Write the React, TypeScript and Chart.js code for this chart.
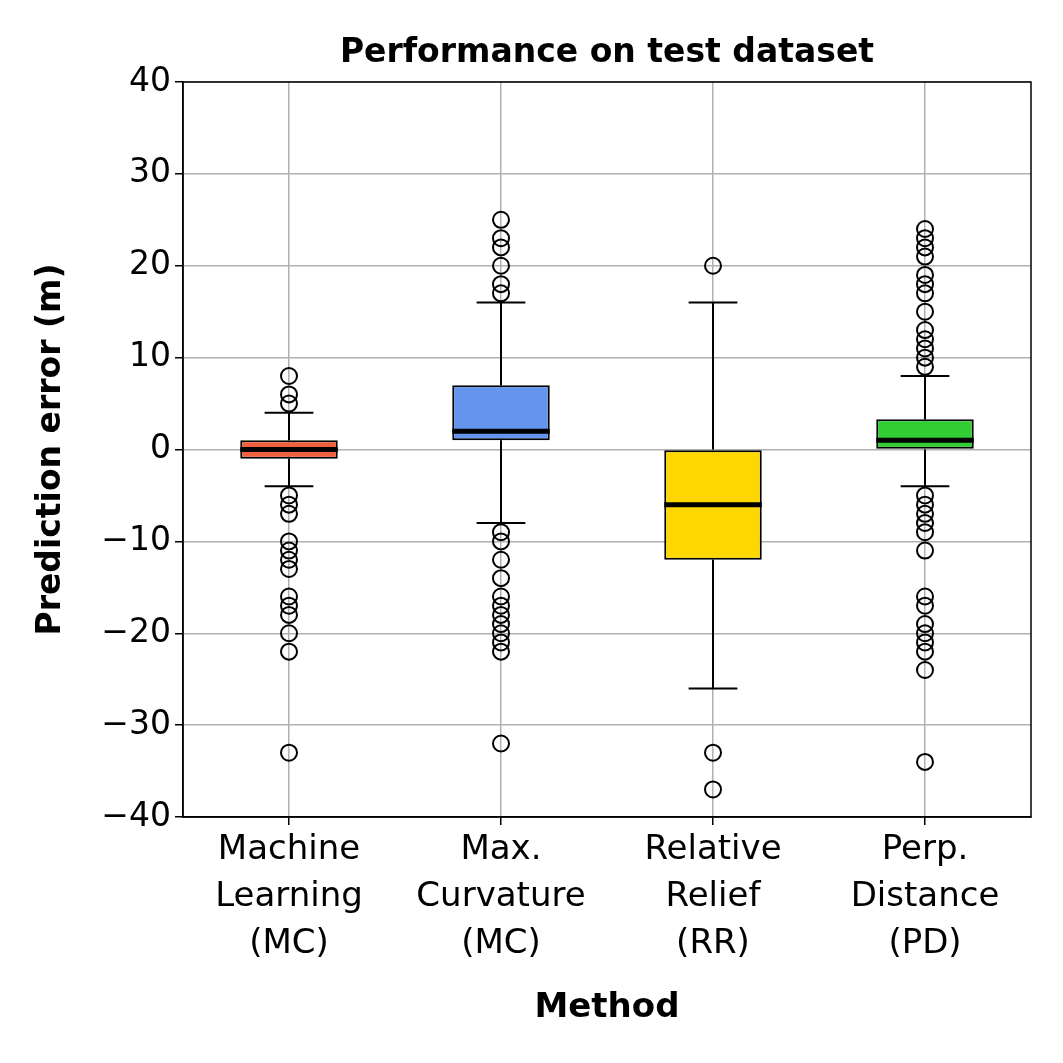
import { useEffect, useRef } from "react";
import { Chart, registerables } from "chart.js";

Chart.register(...registerables);

const methods = [
  ["Machine", "Learning", "(MC)"],
  ["Max.", "Curvature", "(MC)"],
  ["Relative", "Relief", "(RR)"],
  ["Perp.", "Distance", "(PD)"],
];
const keys = ["ML", "MAXC", "RR", "PD"];
const boxColors = ["#f0603f", "#6495ed", "#ffd700", "#32cd32"];
const q1 = [-1, 1, -12, 0];
const q3 = [1, 7, 0, 3.3];
const medians = [0, 2, -6, 1];
const whiskerLow = [-4, -8, -26, -4];
const whiskerHigh = [4, 16, 16, 8];
const outliersML = [8, 6, 5, -5, -6, -7, -10, -11, -12, -13, -16, -17, -18, -20, -22, -33];
const outliersMaxC = [25, 23, 22, 20, 18, 17, -9, -10, -12, -14, -16, -17, -18, -19, -20, -21, -22, -32];
const outliersRR = [20, -33, -37];
const outliersPD = [24, 23, 22, 21, 19, 18, 17, 15, 13, 12, 11, 10, 9, -5, -6, -7, -8, -9, -11, -16, -17, -19, -20, -21, -22, -24, -34];
const yTicks = [-40, -30, -20, -10, 0, 10, 20, 30, 40];

const FONT = "'DejaVu Sans', sans-serif";

const boxPlugin = {
  id: "boxExtras",
  afterDatasetsDraw(chart: any) {
    const { ctx, scales } = chart;
    const meta = chart.getDatasetMeta(0);
    ctx.save();
    keys.forEach((_, i) => {
      const bar = meta.data[i];
      const cx = bar.x;
      const half = bar.width / 2;
      const py = (v: number) => scales.y.getPixelForValue(v);
      ctx.strokeStyle = "#000";
      ctx.lineWidth = 2;
      ctx.beginPath();
      ctx.moveTo(cx, py(q3[i]));
      ctx.lineTo(cx, py(whiskerHigh[i]));
      ctx.moveTo(cx, py(q1[i]));
      ctx.lineTo(cx, py(whiskerLow[i]));
      ctx.moveTo(cx - half / 2, py(whiskerHigh[i]));
      ctx.lineTo(cx + half / 2, py(whiskerHigh[i]));
      ctx.moveTo(cx - half / 2, py(whiskerLow[i]));
      ctx.lineTo(cx + half / 2, py(whiskerLow[i]));
      ctx.stroke();
      ctx.lineWidth = 5;
      ctx.beginPath();
      ctx.moveTo(cx - half, py(medians[i]));
      ctx.lineTo(cx + half, py(medians[i]));
      ctx.stroke();
    });
    const a = chart.chartArea;
    ctx.lineWidth = 1.5;
    ctx.strokeStyle = "#000";
    ctx.strokeRect(a.left, a.top, a.right - a.left, a.bottom - a.top);
    ctx.fillStyle = "#000";
    ctx.font = `bold 33px ${FONT}`;
    ctx.textAlign = "center";
    ctx.textBaseline = "bottom";
    ctx.fillText("Performance on test dataset", (a.left + a.right) / 2, a.top - 12);
    ctx.restore();
  },
};

export default function App() {
  const ref = useRef<HTMLCanvasElement>(null);
  useEffect(() => {
    if (!ref.current) return;
    const outlierData = [outliersML, outliersMaxC, outliersRR, outliersPD].flatMap((arr, i) =>
      arr.map((y) => ({ x: keys[i], y }))
    );
    const chart = new Chart(ref.current, {
      type: "bar",
      data: {
        labels: keys,
        datasets: [
          {
            type: "bar",
            data: keys.map((_, i) => [q1[i], q3[i]]) as any,
            backgroundColor: boxColors,
            borderColor: "#000",
            borderWidth: 2,
            borderSkipped: false,
            barPercentage: 0.46,
            categoryPercentage: 1,
          },
          {
            type: "line",
            data: outlierData as any,
            showLine: false,
            pointRadius: 8,
            pointBorderWidth: 2,
            pointBorderColor: "#000",
            pointBackgroundColor: "rgba(0,0,0,0)",
          },
        ],
      },
      options: {
        animation: false,
        responsive: false,
        layout: { padding: { left: 28, right: 32, top: 82, bottom: 30 } },
        plugins: { legend: { display: false }, tooltip: { enabled: false } },
        scales: {
          x: {
            offset: true,
            grid: { offset: false, color: "#b0b0b0", lineWidth: 1.5, tickLength: 8, tickColor: "#000" },
            border: { color: "#000", width: 1.5 },
            ticks: {
              color: "#000",
              font: { family: FONT, size: 34, lineHeight: 1.38 },
              padding: 2,
              callback: (_v: any, i: number) => methods[i],
            },
            title: { display: true, text: "Method", color: "#000", font: { family: FONT, size: 34, weight: "bold" }, padding: { top: 4 } },
            afterFit: (s: any) => { s.height = 216; },
          },
          y: {
            min: -40,
            max: 40,
            afterBuildTicks: (s: any) => { s.ticks = yTicks.map((v) => ({ value: v })); },
            grid: { color: "#b0b0b0", lineWidth: 1.5, tickLength: 8, tickColor: "#000" },
            border: { color: "#000", width: 1.5 },
            ticks: {
              color: "#000",
              font: { family: FONT, size: 33 },
              padding: 4,
              callback: (v: any) => String(v).replace("-", "\u2212"),
            },
            title: { display: true, text: "Prediction error (m)", color: "#000", font: { family: FONT, size: 33, weight: "bold" }, padding: { bottom: 4 } },
            afterFit: (s: any) => { s.width = 155; },
          },
        },
      },
      plugins: [boxPlugin],
    });
    return () => chart.destroy();
  }, []);
  return (
    <div style={{ position: "fixed", left: 0, top: 0, width: 1063, height: 1063, background: "#fff" }}>
      <canvas ref={ref} width={1063} height={1063} style={{ width: 1063, height: 1063 }} />
    </div>
  );
}
